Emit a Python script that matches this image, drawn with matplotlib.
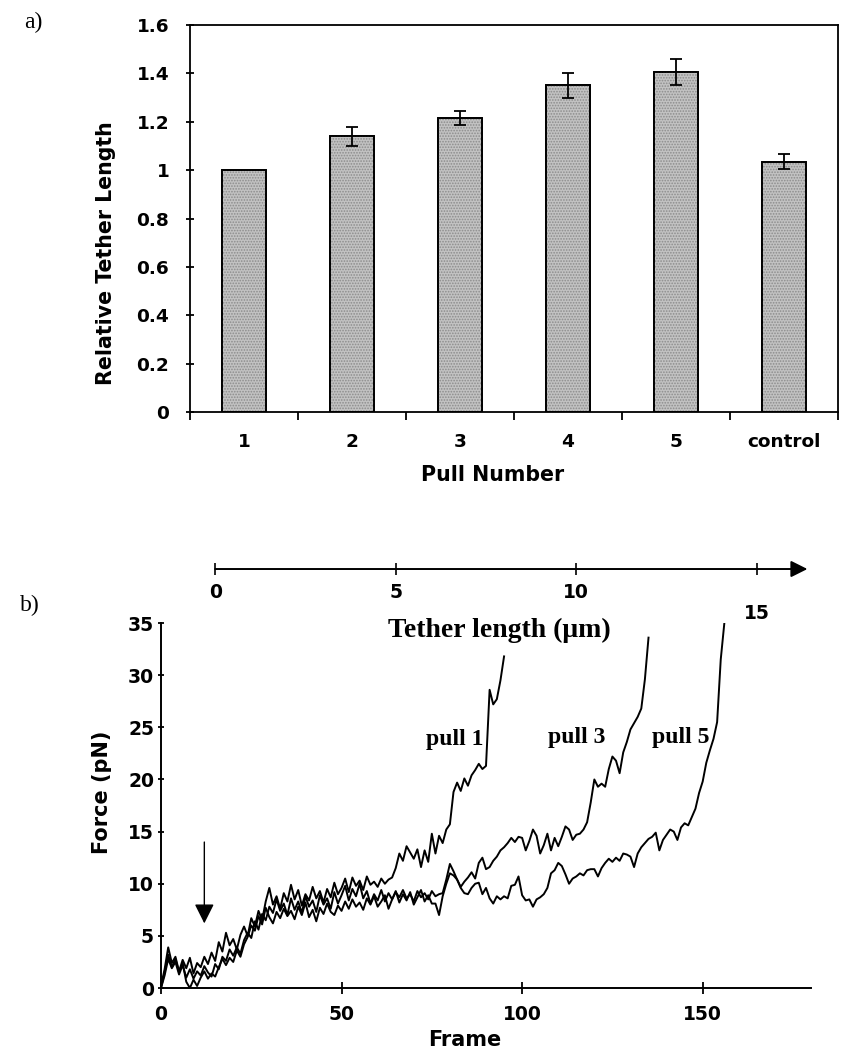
import numpy as np
import matplotlib
matplotlib.use("Agg")
import matplotlib.pyplot as plt

# a) relative tether length per pull
pull_labels = ["1", "2", "3", "4", "5", "control"]
rel_length = [1.0, 1.14, 1.215, 1.35, 1.405, 1.035]
rel_err = [0.0, 0.04, 0.03, 0.05, 0.055, 0.03]
yticks_a = [0, 0.2, 0.4, 0.6, 0.8, 1.0, 1.2, 1.4, 1.6]
yticklabels_a = ["0", "0.2", "0.4", "0.6", "0.8", "1", "1.2", "1.4", "1.6"]

# b) force traces, one value per frame (pN)
pull1 = [0.2, 1.8, 3.9, 2.4, 3.0, 1.6, 2.7, 1.9, 2.9, 1.4,
         2.4, 2.0, 3.0, 2.3, 3.4, 2.6, 4.4, 3.5, 5.3, 4.1,
         4.7, 3.7, 5.1, 5.9, 5.0, 6.7, 5.9, 7.4, 6.5, 8.3,
         9.6, 8.0, 8.8, 7.6, 9.1, 8.3, 9.9, 8.5, 9.4, 7.9,
         9.0, 8.4, 9.7, 8.6, 9.3, 8.2, 9.5, 8.7, 10.1, 9.0,
         9.6, 10.5, 9.2, 10.6, 9.8, 10.3, 9.4, 10.7, 9.9, 10.2,
         9.7, 10.5, 10.0, 10.4, 10.6, 11.5, 12.9, 12.2, 13.6, 13.0,
         12.4, 13.3, 11.6, 13.2, 12.1, 14.8, 12.9, 14.6, 13.9, 15.2,
         15.7, 18.8, 19.7, 18.9, 20.1, 19.4, 20.4, 20.9, 21.5, 21.0,
         21.3, 28.6, 27.2, 27.7, 29.5, 31.8]
pull3 = [0.0, 1.2, 2.8, 1.9, 2.5, 1.3, 2.2, 1.0, 1.8, 0.9,
         1.6, 1.2, 2.1, 1.5, 1.1, 2.3, 1.8, 3.0, 2.6, 3.7,
         3.1, 3.9, 3.3, 4.6, 5.3, 4.8, 6.4, 5.6, 7.1, 6.5,
         7.8, 7.2, 8.5, 7.4, 8.1, 7.0, 8.6, 7.5, 8.3, 7.2,
         8.8, 7.8, 8.4, 7.3, 8.9, 8.0, 8.6, 7.6, 9.2, 8.1,
         8.9, 9.8, 8.4, 9.5, 8.8, 10.0, 8.6, 9.3, 8.1, 9.0,
         8.4, 9.4, 8.3, 9.1, 8.5, 9.2, 8.7, 9.4, 8.6, 9.0,
         8.3, 9.3, 8.7, 9.1, 8.5, 9.3, 8.8, 9.0, 9.1, 10.4,
         11.9, 11.2, 10.4, 9.7, 10.2, 10.6, 11.1, 10.5, 12.0, 12.5,
         11.4, 11.6, 12.2, 12.6, 13.2, 13.5, 13.9, 14.4, 14.0, 14.5,
         14.4, 13.2, 14.1, 15.2, 14.6, 12.9, 13.7, 14.8, 13.2, 14.4,
         13.6, 14.5, 15.5, 15.2, 14.2, 14.7, 14.8, 15.2, 15.9, 17.8,
         20.0, 19.3, 19.6, 19.3, 21.0, 22.2, 21.8, 20.6, 22.6, 23.6,
         24.8, 25.4, 26.0, 26.8, 29.6, 33.6]
pull5 = [0.0, 1.5, 3.2, 2.0, 2.8, 1.5, 2.4, 0.6, 0.0, 0.8,
         0.2, 1.0, 1.6, 0.9, 1.4, 1.1, 2.0, 2.8, 2.2, 2.9,
         2.5, 3.6, 3.0, 4.2, 4.9, 6.0, 5.5, 6.9, 6.1, 7.7,
         6.8, 6.2, 7.3, 6.7, 7.6, 6.9, 7.4, 6.6, 7.8, 7.0,
         8.2, 6.8, 7.5, 6.4, 7.7, 7.1, 8.1, 7.3, 7.0, 7.9,
         7.4, 8.3, 7.6, 8.5, 7.8, 8.2, 7.5, 8.6, 8.0, 8.8,
         7.8, 8.3, 8.9, 7.6, 8.5, 9.3, 8.2, 9.0, 8.4, 9.2,
         8.0, 8.7, 9.4, 8.3, 8.9, 8.1, 8.1, 7.0, 8.8, 10.0,
         11.0, 10.8, 10.4, 9.6, 9.1, 9.0, 9.6, 10.0, 10.1, 9.0,
         9.6, 8.6, 8.1, 8.8, 8.5, 8.8, 8.6, 9.8, 9.9, 10.7,
         8.9, 8.4, 8.5, 7.8, 8.5, 8.7, 9.0, 9.6, 11.0, 11.3,
         12.0, 11.7, 10.9, 10.0, 10.5, 10.7, 11.0, 10.8, 11.3, 11.4,
         11.4, 10.7, 11.5, 12.0, 12.4, 12.1, 12.5, 12.2, 12.9, 12.8,
         12.6, 11.6, 12.9, 13.5, 13.9, 14.3, 14.5, 14.9, 13.2, 14.2,
         14.7, 15.2, 15.0, 14.2, 15.4, 15.8, 15.6, 16.4, 17.2, 18.7,
         19.8, 21.6, 22.8, 23.9, 25.5, 31.5, 35.0]
traces = {"pull 1": pull1, "pull 3": pull3, "pull 5": pull5}
trace_label_pos = {"pull 1": (81.4, 23.8), "pull 3": (115.2, 24.0), "pull 5": (143.8, 24.0)}

len_ticks = [0, 5, 10, 15]          # tether length scale, um
len_offset_frames = 15              # frame where tether length is 0
frames_per_um = 10

plt.rcParams['font.family'] = ['DejaVu Sans']
plt.rcParams['font.weight'] = 'bold'
plt.rcParams['hatch.linewidth'] = 0.8

fig = plt.figure(figsize=(8.42, 10.51), dpi=100)

# ---------------- a) ----------------
ax = fig.add_axes([0.2257, 0.6080, 0.7696, 0.3682])
x = np.arange(len(pull_labels))
ax.bar(x, rel_length, width=0.4, color="#c2c2c2", edgecolor="black", linewidth=1.3, zorder=2)
# stipple texture like the printed original
ax.bar(x, rel_length, width=0.4, color="none", edgecolor="#8c8c8c", hatch="......",
       linewidth=0, zorder=2.5)
ax.bar(x, rel_length, width=0.4, color="none", edgecolor="black", linewidth=1.3, zorder=2.6)
m = np.array(rel_err) > 0
ax.errorbar(x[m], np.array(rel_length)[m], yerr=np.array(rel_err)[m], fmt="none",
            ecolor="black", elinewidth=1.3, capsize=4, capthick=1.3, zorder=3)
ax.set_xlim(-0.5, len(pull_labels) - 0.5)
ax.set_ylim(0, 1.6)
ax.set_yticks(yticks_a)
ax.set_yticklabels(yticklabels_a)
ax.set_xticks(x)
ax.set_xticklabels(pull_labels)
ax.set_xticks(np.arange(len(pull_labels) + 1) - 0.5, minor=True)
ax.tick_params(axis="x", which="major", length=0, pad=15, labelsize=13.3)
ax.tick_params(axis="x", which="minor", direction="out", length=6, width=1.3)
ax.tick_params(axis="y", direction="inout", length=6, width=1.3, pad=12, labelsize=13.3)
for s in ax.spines.values():
    s.set_linewidth(1.3)
ax.text(-0.13, 0.41, "Relative Tether Length", transform=ax.transAxes, rotation=90,
        ha="center", va="center", fontsize=14.8, fontweight="bold")
ax.text(0.4676, -0.163, "Pull Number", transform=ax.transAxes,
        ha="center", va="center", fontsize=14.8, fontweight="bold")
fig.text(0.040, 0.979, "a)", family="Liberation Serif", fontweight="normal", fontsize=17,
         ha="center", va="center")

# ---------------- b) ----------------
bx = fig.add_axes([0.1912, 0.0599, 0.772, 0.3473])
for name, vals in traces.items():
    bx.plot(np.arange(len(vals)), vals, color="black", lw=1.4)
    lx, ly = trace_label_pos[name]
    bx.text(lx, ly, name, family="Liberation Serif", fontweight="bold", fontsize=17,
            ha="center", va="center")
bx.annotate("", xy=(12, 6.2), xytext=(12, 14.0),
            arrowprops=dict(arrowstyle="-|>", color="black", lw=1.0,
                            mutation_scale=30, shrinkA=0, shrinkB=0))
bx.set_xlim(0, 180)
bx.set_ylim(0, 35)
bx.set_xticks([0, 50, 100, 150])
bx.set_yticks(np.arange(0, 36, 5))
bx.tick_params(axis="x", direction="inout", length=8, width=1.3, pad=8, labelsize=13.5)
bx.tick_params(axis="y", direction="inout", length=4, width=1.3, pad=3, labelsize=13.5)
bx.spines["top"].set_visible(False)
bx.spines["right"].set_visible(False)
for s in ("left", "bottom"):
    bx.spines[s].set_linewidth(1.4)
bx.text(-0.091, 0.537, "Force (pN)", transform=bx.transAxes, rotation=90,
        ha="center", va="center", fontsize=15, fontweight="bold")
bx.text(0.468, -0.142, "Frame", transform=bx.transAxes,
        ha="center", va="center", fontsize=15, fontweight="bold")
fig.text(0.035, 0.424, "b)", family="Liberation Serif", fontweight="normal", fontsize=17,
         ha="center", va="center")

# tether length scale above panel b
lx0 = -len_offset_frames / frames_per_um
lx1 = (180 - len_offset_frames) / frames_per_um
axl = fig.add_axes([0.1912, 0.4586, 0.772, 0.02])
axl.set_xlim(lx0, lx1)
axl.set_ylim(0, 1)
for s in axl.spines.values():
    s.set_visible(False)
axl.patch.set_visible(False)
axl.set_yticks([])
axl.set_xticks(len_ticks)
axl.tick_params(axis="x", direction="inout", length=9, width=1.2, labelbottom=False)
axl.annotate("", xy=(16.4, 0), xytext=(0, 0), xycoords="data",
             arrowprops=dict(arrowstyle="-|>", color="black", lw=1.4,
                             mutation_scale=25, shrinkA=0, shrinkB=0),
             annotation_clip=False)
for v in len_ticks:
    yy = -1.1 if v < 15 else -2.1
    axl.text(v, yy, str(v), ha="center", va="center", fontsize=13.5, fontweight="bold",
             transform=axl.transData, clip_on=False)
fig.text(0.593, 0.4006, "Tether length (\u03bcm)", family="Liberation Serif",
         fontweight="bold", fontsize=20, ha="center", va="center")

fig.savefig("out.png", dpi=100)
